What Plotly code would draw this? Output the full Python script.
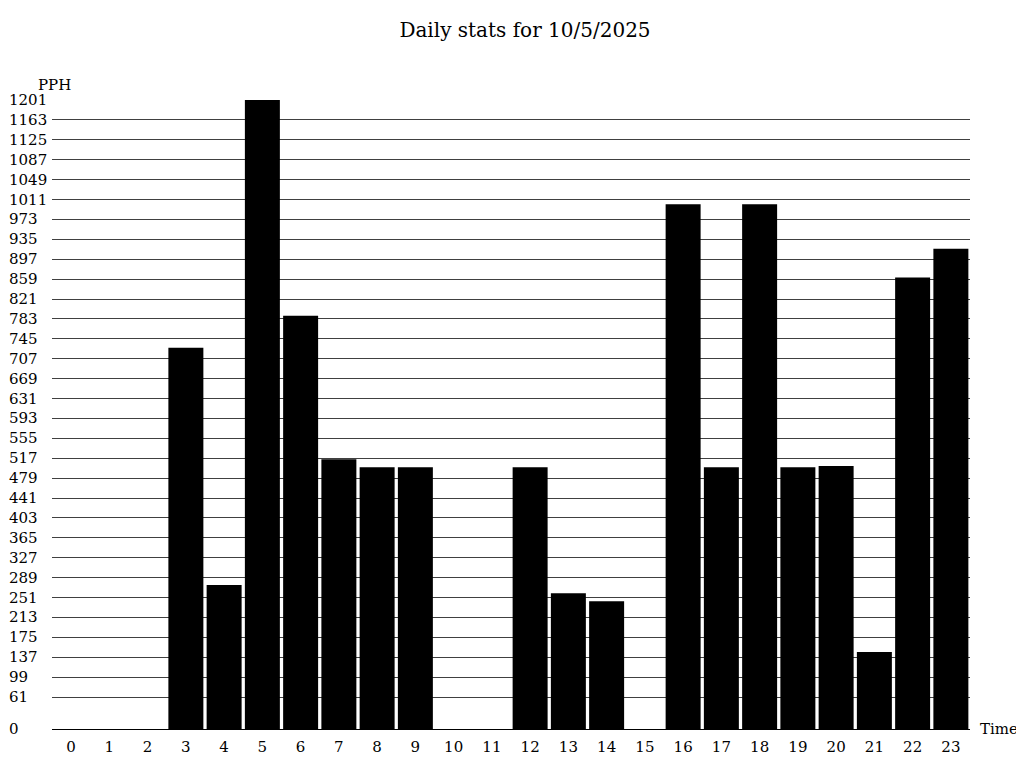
import plotly.graph_objects as go

hours = [str(h) for h in range(24)]
pph = [0, 0, 0, 728, 275, 1201, 789, 515, 500, 500, 0, 0,
       500, 259, 244, 0, 1002, 500, 1002, 500, 502, 147, 862, 917]
y_ticks = [0] + list(range(61, 1202, 38))
title_text = "Daily stats for 10/5/2025"
y_label = "PPH"
x_label = "Time"

FONT = "DejaVu Serif"
OFF = 8  # browser body margin
W, H = 1024 - OFF, 768 - OFF
plot_l, plot_r, plot_t, plot_b = 52, 970, 100, 731  # page pixels
L, T = plot_l - OFF, plot_t - OFF
R, B = 1024 - plot_r, 768 - plot_b
pw = plot_r - plot_l

fig = go.Figure(go.Bar(
    x=hours, y=pph,
    marker=dict(color="black", line=dict(width=0)),
    hoverinfo="x+y",
))

annotations = []
for v in y_ticks:
    annotations.append(dict(
        x=(7 - plot_l) / pw, xref="paper", y=v, yref="y",
        text=str(v), showarrow=False, xanchor="left", yanchor="middle",
        font=dict(family=FONT, size=15, color="black"),
    ))
annotations.append(dict(
    x=(36 - plot_l) / pw, xref="paper", y=1, yref="paper", yshift=15,
    text=y_label, showarrow=False, xanchor="left", yanchor="middle",
    font=dict(family=FONT, size=15, color="black"),
))
annotations.append(dict(
    x=1, xref="paper", xshift=8, y=0, yref="paper",
    text=x_label, showarrow=False, xanchor="left", yanchor="middle",
    font=dict(family=FONT, size=15, color="black"),
))

fig.update_layout(
    width=W, height=H,
    margin=dict(l=L, r=R, t=T, b=B, pad=0),
    paper_bgcolor="white", plot_bgcolor="white",
    title=dict(text=title_text, x=(525 - plot_l) / pw, xanchor="center", xref="paper",
               y=1 - (30 - OFF) / H, yanchor="middle",
               font=dict(family=FONT, size=20, color="black")),
    bargap=0.085,
    showlegend=False,
    xaxis=dict(type="category", showgrid=False, zeroline=False,
               showline=True, linecolor="black", linewidth=1,
               ticks="", ticklabelstandoff=4,
               tickfont=dict(family=FONT, size=15, color="black")),
    yaxis=dict(range=[0, 1201], tickvals=y_ticks, showticklabels=False,
               showgrid=True, gridcolor="#404040", gridwidth=1,
               zeroline=False, showline=False, ticks=""),
    annotations=annotations,
)

fig.write_html("out.html")
